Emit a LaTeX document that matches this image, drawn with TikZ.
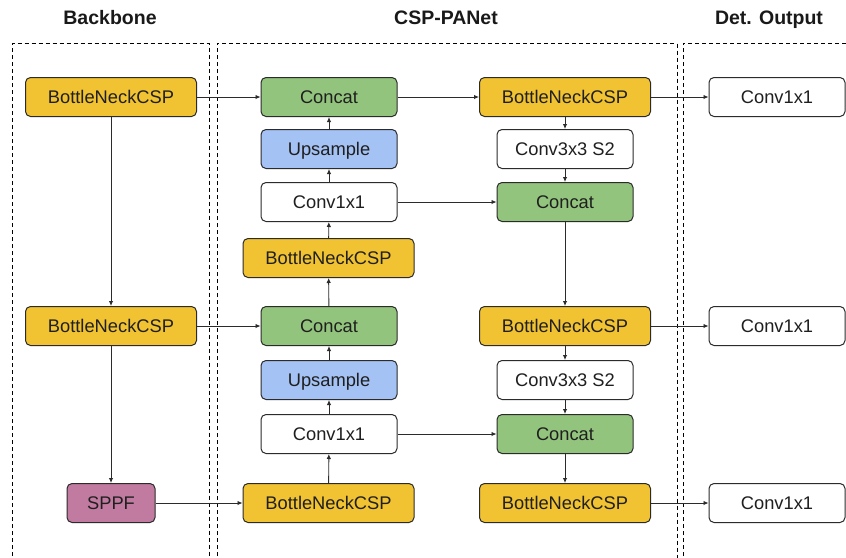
\documentclass[tikz,border=0pt]{standalone}
\usepackage{fontspec}
\setmainfont{Liberation Sans}
\usetikzlibrary{arrows.meta}
\definecolor{bnyellow}{HTML}{F1C232}
\definecolor{catgreen}{HTML}{93C47D}
\definecolor{upblue}{HTML}{A4C2F4}
\definecolor{sppfpink}{HTML}{C27BA0}
\definecolor{edge}{HTML}{2B2B2B}
\tikzset{
  blk/.style={draw=edge, line width=1pt, rounded corners=5pt, minimum height=39pt,
    inner sep=0pt, text height=16pt, text depth=3pt,
    font=\fontsize{18.3}{20}\selectfont, text=black!88},
  bn/.style={blk, fill=bnyellow, minimum width=171pt},
  cat/.style={blk, fill=catgreen, minimum width=136pt},
  ups/.style={blk, fill=upblue, minimum width=136pt},
  conv/.style={blk, fill=white, minimum width=136pt},
  sppf/.style={blk, fill=sppfpink, minimum width=88pt},
  link/.style={draw=edge, line width=0.9pt, -{Latex[length=5pt,width=4.5pt]}},
  region/.style={draw=black, line width=0.9pt, dash pattern=on 4pt off 3pt},
  heading/.style={anchor=base, font=\bfseries\fontsize{19.5}{22}\selectfont, text=black!90}
}
\begin{document}
\begin{tikzpicture}[x=1pt,y=-1pt]
\clip (0,0) rectangle (846,557);
\fill[white] (0,0) rectangle (846,557);

% column frames
\draw[region] (12.3,570) -- (12.3,43.3) -- (209.3,43.3) -- (209.3,570);
\draw[region] (217,570) -- (217,43.3) -- (677,43.3) -- (677,570);
\draw[region] (683,570) -- (683,43.3) -- (860,43.3);

% headings
\node[heading] (hbb) at (110,24.5) {Backbone};
\node[heading] (hpan) at (446,24.5) {CSP-PANet};
\node[heading] (hdet) at (769,24.5) {Det. Output};

% backbone
\node[bn] (b1) at (111,97) {BottleNeckCSP};
\node[bn] (b2) at (111,326) {BottleNeckCSP};
\node[sppf] (sp) at (111,503) {SPPF};

% top-down path
\node[cat]  (c1) at (329,97) {Concat};
\node[ups]  (u1) at (329,149) {Upsample};
\node[conv] (k1) at (329,202) {Conv1x1};
\node[bn]   (m1) at (328.5,258) {BottleNeckCSP};
\node[cat]  (c2) at (329,326) {Concat};
\node[ups]  (u2) at (329,380) {Upsample};
\node[conv] (k2) at (329,434) {Conv1x1};
\node[bn]   (m2) at (328.5,503) {BottleNeckCSP};

% bottom-up path
\node[bn]   (p1) at (565,97) {BottleNeckCSP};
\node[conv] (s1) at (565,149) {Conv3x3 S2};
\node[cat]  (d1) at (565,202) {Concat};
\node[bn]   (p2) at (565,326) {BottleNeckCSP};
\node[conv] (s2) at (565,380) {Conv3x3 S2};
\node[cat]  (d2) at (565,434) {Concat};
\node[bn]   (p3) at (565,503) {BottleNeckCSP};

% heads
\node[conv] (o1) at (777,97) {Conv1x1};
\node[conv] (o2) at (777,326) {Conv1x1};
\node[conv] (o3) at (777,503) {Conv1x1};

% backbone links
\draw[link] (b1) -- (b2);
\draw[link] (b2) -- (sp);
\draw[link] (b1) -- (c1);
\draw[link] (b2) -- (c2);
\draw[link] (sp) -- (m2);

% top-down links
\draw[link] (m2) -- (k2);
\draw[link] (k2) -- (u2);
\draw[link] (u2) -- (c2);
\draw[link] (c2) -- (m1);
\draw[link] (m1) -- (k1);
\draw[link] (k1) -- (u1);
\draw[link] (u1) -- (c1);

% bottom-up links
\draw[link] (c1) -- (p1);
\draw[link] (k1) -- (d1);
\draw[link] (k2) -- (d2);
\draw[link] (p1) -- (s1);
\draw[link] (s1) -- (d1);
\draw[link] (d1) -- (p2);
\draw[link] (p2) -- (s2);
\draw[link] (s2) -- (d2);
\draw[link] (d2) -- (p3);

% outputs
\draw[link] (p1) -- (o1);
\draw[link] (p2) -- (o2);
\draw[link] (p3) -- (o3);
\end{tikzpicture}
\end{document}
